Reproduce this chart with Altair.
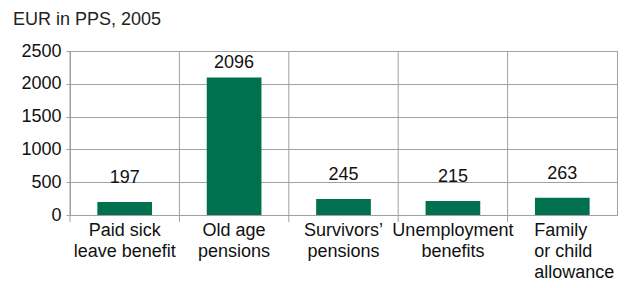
import altair as alt
import pandas as pd

categories = ["Paid sick|leave benefit", "Old age|pensions", "Survivors’|pensions",
              "Unemployment|benefits", "Family|or child|allowance"]
values = [197, 2096, 245, 215, 263]
y_ticks = [0, 500, 1000, 1500, 2000, 2500]

df = pd.DataFrame({"cat": categories, "value": values})

W, H = 547, 164
GRID = "#a0a0a0"
FONT = "Liberation Sans"

xenc = alt.X("cat:N", sort=categories,
             scale=alt.Scale(paddingInner=0, paddingOuter=0),
             axis=alt.Axis(title=None, labelAngle=0, grid=False, ticks=False,
                           domainColor=GRID, labelFontSize=18, labelLineHeight=21,
                           labelColor="#111", labelFont=FONT, labelPadding=6,
                           labelBaseline="top", labelOverlap=False,
                           labelExpr="split(datum.label, '|')",
                           labelAlign={"expr": "indexof(datum.label, 'Family') == 0 ? 'left' : 'center'"},
                           labelOffset={"expr": "indexof(datum.label, 'Family') == 0 ? -28 : 0"}))

yenc = alt.Y("value:Q", scale=alt.Scale(domain=[0, 2500], nice=False),
             axis=alt.Axis(title=None, values=y_ticks, format="d", labelOverlap=False,
                           grid=True, gridColor=GRID,
                           domainColor=GRID, tickColor=GRID, tickSize=4,
                           labelFontSize=18, labelColor="#111", labelFont=FONT,
                           labelPadding=5))

bars = alt.Chart(df).mark_bar(color="#00704f", width={"band": 0.5}).encode(x=xenc, y=yenc)

vlines = alt.Chart(df).mark_rule(color=GRID, strokeWidth=1).encode(
    x=alt.X("cat:N", sort=categories, bandPosition=0),
    y=alt.value(0), y2=alt.value(H + 7))

small = alt.Chart(df).transform_filter("datum.value < 1000").mark_text(
    fontSize=18, font=FONT, color="#111", baseline="alphabetic", dy=-19).encode(
    x=xenc, y=yenc, text="value:Q")
big = alt.Chart(df).transform_filter("datum.value >= 1000").mark_text(
    fontSize=18, font=FONT, color="#111", baseline="alphabetic", dy=-10).encode(
    x=xenc, y=yenc, text="value:Q")

chart = alt.layer(vlines, bars, small, big).properties(
    width=W, height=H,
    title=alt.TitleParams("EUR in PPS, 2005", anchor="start", frame="group", fontSize=18,
                          fontWeight="normal", font=FONT, color="#222",
                          dx=-57, offset=13),
    autosize=alt.AutoSizeParams(type="none"),
    padding={"left": 62, "top": 43, "right": 1, "bottom": 65},
).configure_view(stroke=GRID)

chart.save("out.html", embed_options={"renderer": "svg", "actions": False})
